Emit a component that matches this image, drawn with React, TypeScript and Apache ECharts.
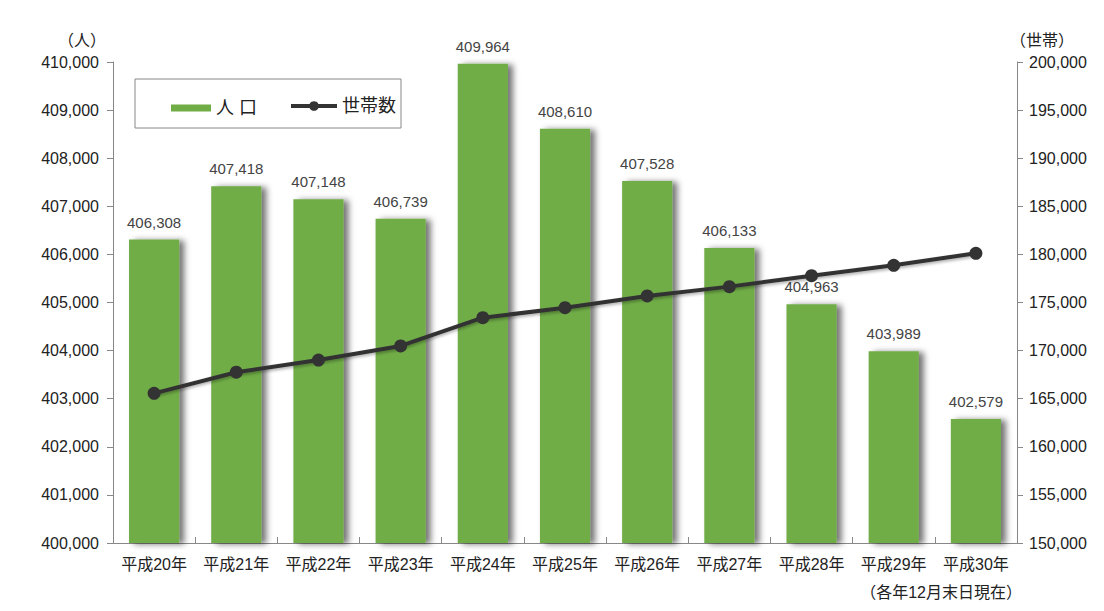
import React, { useEffect, useRef } from "react";
import * as echarts from "echarts";

const categories = ["平成20年", "平成21年", "平成22年", "平成23年", "平成24年", "平成25年", "平成26年", "平成27年", "平成28年", "平成29年", "平成30年"];
const population = [406308, 407418, 407148, 406739, 409964, 408610, 407528, 406133, 404963, 403989, 402579];
const households = [165560, 167750, 169020, 170480, 173420, 174460, 175680, 176650, 177790, 178870, 180110];
const leftTicks = { min: 400000, max: 410000, interval: 1000 };
const rightTicks = { min: 150000, max: 200000, interval: 5000 };

const FONT = "'Liberation Sans', 'Noto Sans CJK JP', sans-serif";
const fmt = (v: number) => v.toLocaleString("en-US");

export default function App() {
  const ref = useRef<HTMLDivElement>(null);
  useEffect(() => {
    if (!ref.current) return;
    const chart = echarts.init(ref.current, undefined, { renderer: "svg" });
    chart.setOption({
      animation: false,
      backgroundColor: "#ffffff",
      textStyle: { fontFamily: FONT },
      grid: { left: 113, right: 87, top: 62, bottom: 68, containLabel: false },
      legend: [
        {
          left: 166,
          top: 94,
          textStyle: { fontSize: 18, color: "#222", fontFamily: FONT },
          data: [{ name: "人 口", icon: "rect", itemStyle: { color: "#70ad47" } }],
          itemWidth: 40,
          itemHeight: 7,
          itemGap: 6,
        },
        {
          left: 284,
          top: 92,
          textStyle: { fontSize: 18, color: "#222", fontFamily: FONT },
          data: [{ name: "世帯数", lineStyle: { width: 4, color: "#333" } }],
          itemWidth: 46,
          itemHeight: 12,
          itemGap: 4,
        },
      ],
      xAxis: {
        type: "category",
        data: categories,
        axisLine: { lineStyle: { color: "#888", width: 1 } },
        axisTick: { show: true, inside: true, length: 6, alignWithLabel: false, lineStyle: { color: "#888" } },
        axisLabel: { fontSize: 16, color: "#222", margin: 13, interval: 0, fontFamily: FONT },
        splitLine: { show: false },
      },
      yAxis: [
        {
          type: "value",
          min: leftTicks.min,
          max: leftTicks.max,
          interval: leftTicks.interval,
          axisLine: { show: true, lineStyle: { color: "#888" } },
          axisTick: { show: true, length: 6, lineStyle: { color: "#888" } },
          axisLabel: { fontSize: 16, color: "#222", margin: 14, formatter: (v: number) => fmt(v), fontFamily: FONT },
          splitLine: { show: false },
        },
        {
          type: "value",
          min: rightTicks.min,
          max: rightTicks.max,
          interval: rightTicks.interval,
          position: "right",
          axisLine: { show: true, lineStyle: { color: "#888" } },
          axisTick: { show: true, length: 6, lineStyle: { color: "#888" } },
          axisLabel: { fontSize: 16, color: "#222", margin: 12, formatter: (v: number) => fmt(v), fontFamily: FONT },
          splitLine: { show: false },
        },
      ],
      series: [
        {
          name: "人 口",
          type: "bar",
          data: population,
          barCategoryGap: "39%",
          itemStyle: {
            color: "#70ad47",
            shadowColor: "rgba(0,0,0,0.55)",
            shadowBlur: 6,
            shadowOffsetX: 5,
            shadowOffsetY: 1,
          },
          label: {
            show: true,
            position: "top",
            distance: 10,
            fontSize: 15,
            color: "#444",
            fontFamily: FONT,
            formatter: (p: any) => fmt(p.value),
          },
        },
        {
          name: "世帯数",
          type: "line",
          yAxisIndex: 1,
          data: households,
          symbol: "circle",
          symbolSize: 13,
          lineStyle: { color: "#333333", width: 4, shadowColor: "rgba(0,0,0,0.3)", shadowBlur: 3, shadowOffsetY: 2 },
          itemStyle: { color: "#333333" },
          z: 5,
        },
      ],
      graphic: [
        {
          type: "rect",
          shape: { x: 135, y: 79, width: 266, height: 49 },
          style: { fill: "none", stroke: "#888", lineWidth: 1 },
          z: -1,
        },
        {
          type: "text",
          x: 82,
          y: 40,
          style: { text: "（人）", fill: "#222", font: `16px ${FONT}`, textAlign: "center", textVerticalAlign: "middle" },
        },
        {
          type: "text",
          x: 1042,
          y: 40,
          style: { text: "（世帯）", fill: "#222", font: `16px ${FONT}`, textAlign: "center", textVerticalAlign: "middle" },
        },
        {
          type: "text",
          x: 1022,
          y: 592,
          style: { text: "（各年12月末日現在）", fill: "#222", font: `16px ${FONT}`, textAlign: "right", textVerticalAlign: "middle" },
        },
      ],
    });
    return () => chart.dispose();
  }, []);
  return <div ref={ref} style={{ position: "fixed", left: 0, top: 0, width: 1104, height: 611 }} />;
}
